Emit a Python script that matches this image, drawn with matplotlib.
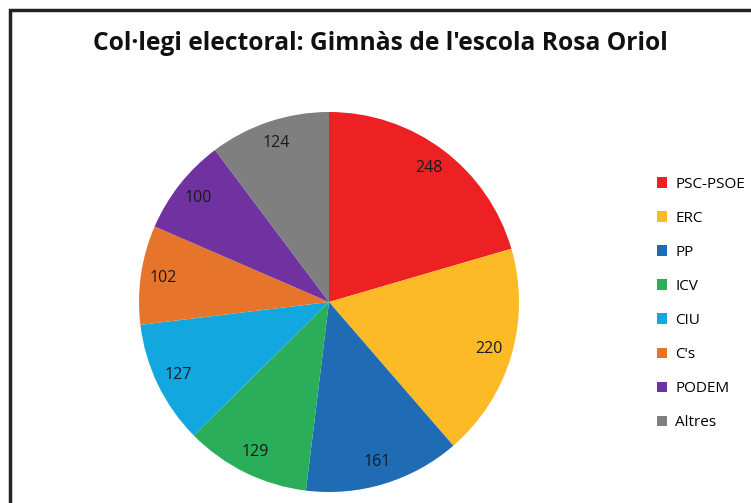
import matplotlib.pyplot as plt
from matplotlib.patches import Rectangle

parties = ['PSC-PSOE', 'ERC', 'PP', 'ICV', 'CIU', "C's", 'PODEM', 'Altres']
votes = [248, 220, 161, 129, 127, 102, 100, 124]
colors = ['#ED2024', '#FBBA26', '#1F6CB5', '#2BAE5A', '#13A7DF', '#E6742A', '#7032A0', '#7F7F7F']

plt.rcParams['font.family'] = ['Open Sans', 'DejaVu Sans']

fig = plt.figure(figsize=(7.51, 5.03), dpi=100)
W, H = 751, 503

# marc del gràfic
fig.patches.append(Rectangle((9.5 / W, -0.1), 1.2, 1 - 9.5 / H + 0.1, transform=fig.transFigure,
                             fill=False, edgecolor='#222222', linewidth=2.5))

cx, cy, r = 329, 302, 190
ax = fig.add_axes([(cx - r) / W, (H - cy - r) / H, 2 * r / W, 2 * r / H])
wedges, texts = ax.pie(votes, colors=colors, startangle=90, counterclock=False,
                       labels=[str(v) for v in votes], labeldistance=0.88,
                       textprops=dict(fontsize=11.5, color='#1a1a1a'))
for t in texts:
    t.set_horizontalalignment('center')
    t.set_verticalalignment('center')
ax.set_xlim(-1, 1)
ax.set_ylim(-1, 1)
ax.set_aspect('equal')

fig.text(380 / W, 1 - 44 / H, "Col·legi electoral: Gimnàs de l'escola Rosa Oriol",
         ha='center', va='center', fontsize=17.7, fontweight='bold', color='#111111')

fig.legend(wedges, parties, loc='upper left', bbox_to_anchor=(643 / W, 1 - 163 / H),
           frameon=False, fontsize=11, handlelength=0.7, handleheight=0.7,
           handletextpad=0.5, labelspacing=1.25)

fig.savefig('out.png', dpi=100)
